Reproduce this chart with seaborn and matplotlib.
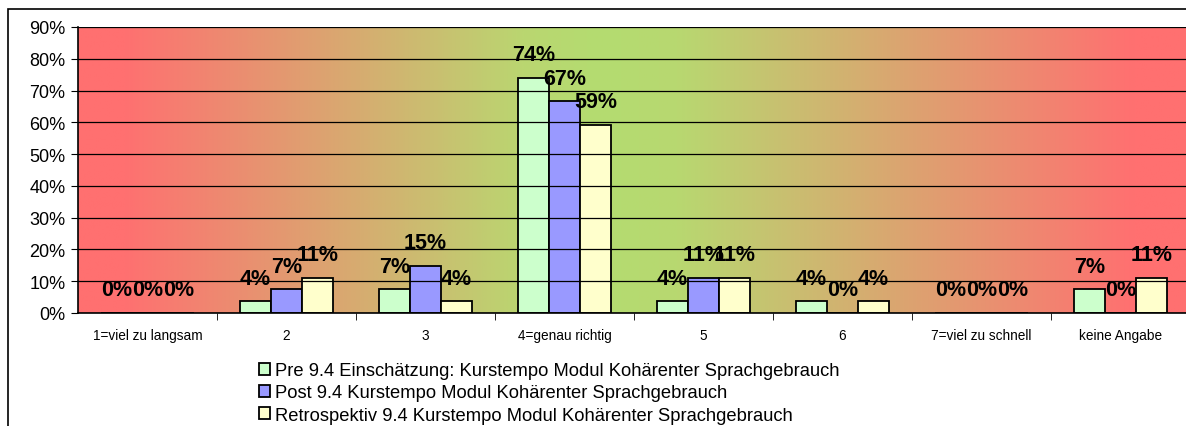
import numpy as np
import pandas as pd
import matplotlib
matplotlib.use("Agg")
import matplotlib.pyplot as plt
import seaborn as sns
from matplotlib.colors import LinearSegmentedColormap
from matplotlib.patches import Rectangle

categories = ["1=viel zu langsam", "2", "3", "4=genau richtig", "5", "6",
              "7=viel zu schnell", "keine Angabe"]
series_names = ["Pre 9.4 Einschätzung: Kurstempo Modul Kohärenter Sprachgebrauch",
                "Post 9.4 Kurstempo Modul Kohärenter Sprachgebrauch",
                "Retrospektiv 9.4 Kurstempo Modul Kohärenter Sprachgebrauch"]
pre_values = [0.0, 3.7, 7.4, 74.1, 3.7, 3.7, 0.0, 7.4]
post_values = [0.0, 7.4, 14.8, 66.7, 11.1, 0.0, 0.0, 0.0]
retro_values = [0.0, 11.1, 3.7, 59.3, 11.1, 3.7, 0.0, 11.1]
y_ticks = [0, 10, 20, 30, 40, 50, 60, 70, 80, 90]
colors = ["#CCFFCC", "#9999FF", "#FFFFCC"]

rows = []
for name, vals in zip(series_names, [pre_values, post_values, retro_values]):
    for c, v in zip(categories, vals):
        rows.append({"Kategorie": c, "Serie": name, "Wert": v})
df = pd.DataFrame(rows)

sns.set_style("white")
plt.rcParams["font.family"] = ["Liberation Sans", "DejaVu Sans"]
plt.rcParams["text.color"] = "black"
plt.rcParams["xtick.color"] = "black"
plt.rcParams["ytick.color"] = "black"
plt.rcParams["axes.labelcolor"] = "black"

W, H = 1186, 427
fig = plt.figure(figsize=(W / 100, H / 100), dpi=100)
# outer chart frame
fig.patches.append(Rectangle((8 / W, -0.1), 1.2, 1 - 10 / H + 0.1,
                             transform=fig.transFigure, fill=False,
                             edgecolor="black", linewidth=1.2, zorder=0))

left, right = 78 / W, 1190 / W
bottom, top = 1 - 314 / H, 1 - 28 / H
ax = fig.add_axes([left, bottom, right - left, top - bottom])

# background gradient red -> green -> red
grad_cmap = LinearSegmentedColormap.from_list("bg", [
    (0.0, "#FF7070"), (0.04, "#FF7070"), (0.40, "#BAD670"), (0.47, "#B4DC70"),
    (0.54, "#B8D870"), (0.95, "#FF7070"), (1.0, "#FF7070")])
grad = np.linspace(0, 1, 512).reshape(1, -1)
ax.imshow(grad, cmap=grad_cmap, extent=[-0.5, 7.5, 0, 90], aspect="auto",
          zorder=0, interpolation="bilinear")

sns.barplot(data=df, x="Kategorie", y="Wert", hue="Serie", order=categories,
            hue_order=series_names, palette=colors, width=0.67, gap=0,
            edgecolor="black", linewidth=1.3, saturation=1, errorbar=None,
            ax=ax, zorder=2)

for container in ax.containers:
    ax.bar_label(container, labels=[f"{v:.0f}%" for v in container.datavalues],
                 padding=9, fontsize=15.5, fontweight="bold", color="black",
                 zorder=5)

ax.set_xlim(-0.5, 7.5)
ax.set_ylim(0, 90)
ax.set_yticks(y_ticks)
ax.set_yticklabels([f"{t}%" for t in y_ticks], fontsize=13)
ax.yaxis.grid(True, color="black", linewidth=0.9)
ax.set_axisbelow(False)
for gl in ax.get_ygridlines():
    gl.set_zorder(1)
ax.tick_params(axis="y", which="major", length=5, direction="out", left=True,
               color="black", pad=4)
ax.set_xticks(range(len(categories)))
ax.set_xticklabels(categories, fontsize=9.8)
ax.tick_params(axis="x", which="major", length=0, pad=11)
ax.set_xticks(np.arange(0.5, 7.5, 1), minor=True)
ax.tick_params(axis="x", which="minor", length=5, direction="out", bottom=True,
               color="black")
ax.set_xlabel("")
ax.set_ylabel("")
for s in ["top", "right"]:
    ax.spines[s].set_visible(False)
for s in ["left", "bottom"]:
    ax.spines[s].set_visible(True)
    ax.spines[s].set_color("black")
    ax.spines[s].set_linewidth(1.2)
    ax.spines[s].set_zorder(4)

handles, labels = ax.get_legend_handles_labels()
ax.get_legend().remove()
leg = fig.legend(handles, labels, loc="upper left",
                 bbox_to_anchor=(252 / W, 1 - 356 / H), frameon=False,
                 fontsize=13.2, handlelength=0.6, handleheight=0.6,
                 handletextpad=0.25, labelspacing=0.28, borderaxespad=0)

fig.savefig("out.png", dpi=100)
